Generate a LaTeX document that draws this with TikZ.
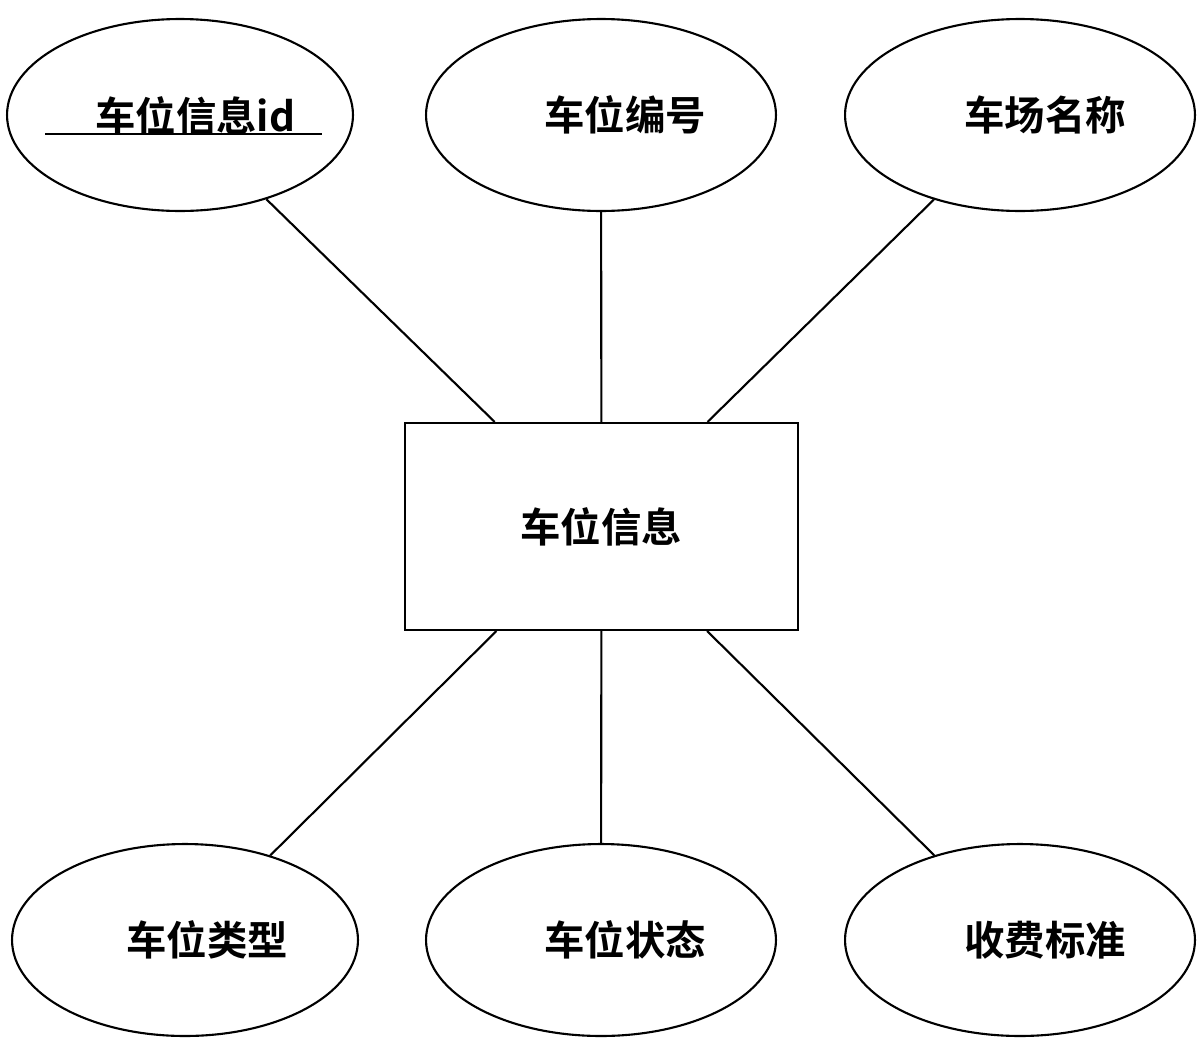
\documentclass[tikz,border=0pt]{standalone}
\usepackage{fontspec}
\newfontfamily\cjk{Noto Sans CJK SC Bold}
\usetikzlibrary{shapes.geometric}
\begin{document}
\begin{tikzpicture}[x=0.02cm,y=-0.02cm,
  attr/.style={draw,line width=1.2pt,ellipse,minimum width=346\dimexpr0.02cm\relax,minimum height=192\dimexpr0.02cm\relax,inner sep=0pt},
  txt/.style={font=\cjk\fontsize{23}{26}\selectfont,inner sep=0pt},
  ln/.style={line width=1.2pt}]
\useasboundingbox (0,0) rectangle (1200,1052);
\node[attr,minimum width=6.92cm,minimum height=3.84cm] (a1) at (180,115) {};
\node[attr,minimum width=7.0cm,minimum height=3.84cm] (a2) at (601,115) {};
\node[attr,minimum width=7.0cm,minimum height=3.84cm] (a3) at (1020,115) {};
\node[attr,minimum width=6.92cm,minimum height=3.84cm] (b1) at (185,940) {};
\node[attr,minimum width=7.0cm,minimum height=3.84cm] (b2) at (601,940) {};
\node[attr,minimum width=7.0cm,minimum height=3.84cm] (b3) at (1020,940) {};
\node[draw,line width=1.2pt,minimum width=7.86cm,minimum height=4.14cm,inner sep=0pt] (r) at (601.5,526.5) {};
\node[txt] (tr) at (601,527) {车位信息};
\node[txt,anchor=base west] (t1) at (95,131) {车位信息id};
\draw[line width=1pt] (45,134) -- (322,134);
\node[txt] (t2) at (625,115) {车位编号};
\node[txt] (t3) at (1045,115) {车场名称};
\node[txt] (t4) at (207,940) {车位类型};
\node[txt] (t5) at (625,940) {车位状态};
\node[txt] (t6) at (1045,940) {收费标准};
\foreach \n in {a1,a2,a3,b1,b2,b3} \draw[ln] (\n) -- (r);
\end{tikzpicture}
\end{document}
